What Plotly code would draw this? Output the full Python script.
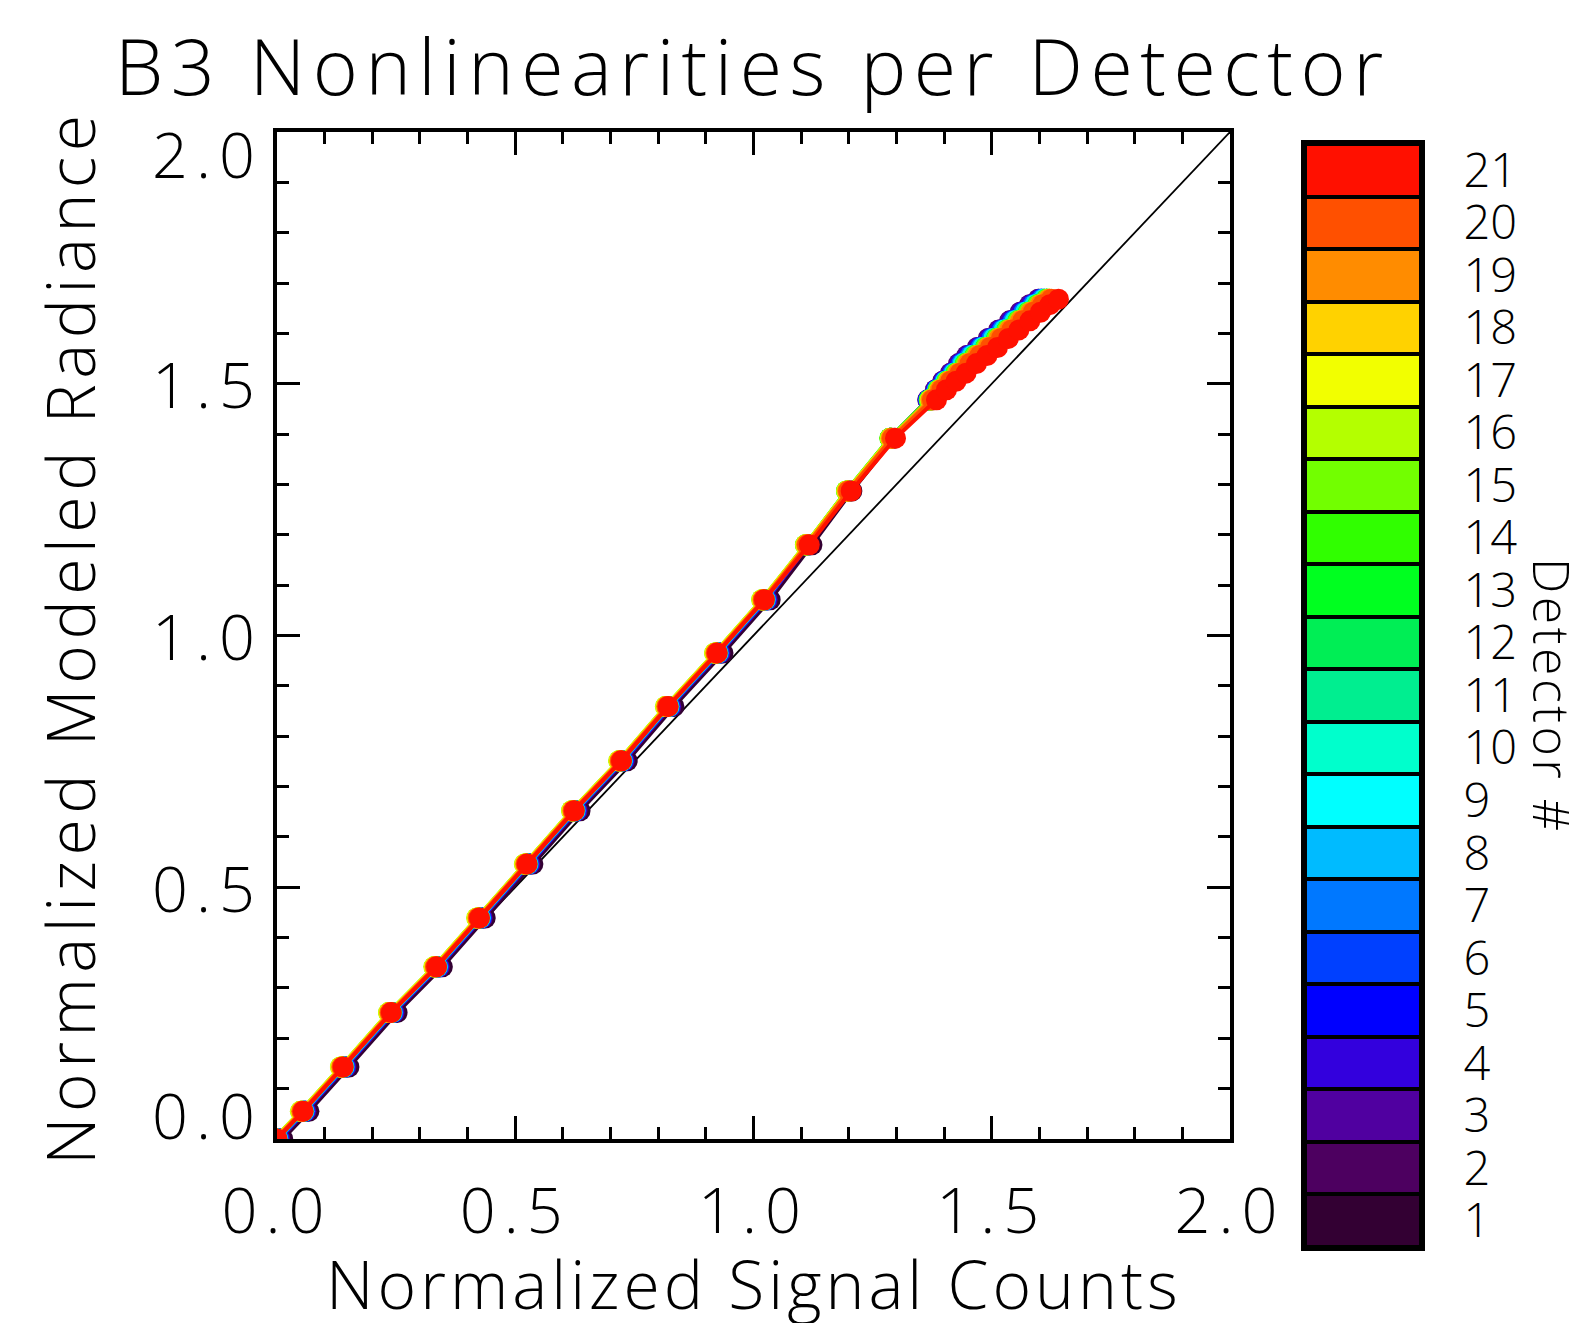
import plotly.graph_objects as go

W, H = 1582, 1323
PAGE_MARGIN = 8  # default body margin of the written page

# ---- data ----
signal_det21 = [0.0, 0.055, 0.139, 0.240, 0.335, 0.425, 0.525, 0.624, 0.723, 0.821, 0.924, 1.023,
                1.117, 1.205, 1.298, 1.384, 1.405, 1.425, 1.446, 1.468, 1.490, 1.512, 1.535, 1.557,
                1.580, 1.602, 1.622, 1.640]
radiance = [0.0, 0.055, 0.143, 0.251, 0.342, 0.439, 0.546, 0.652, 0.751, 0.859, 0.965, 1.071,
            1.180, 1.287, 1.392, 1.468, 1.488, 1.505, 1.521, 1.540, 1.556, 1.572, 1.590, 1.607,
            1.625, 1.642, 1.657, 1.668]
# share of the high-signal detector offset that applies at each point
blend = [0, 0, 0, 0, 0, 0, 0, 0, 0, 0, 0, 0,
         0.15, 0.25, 0.35, 0.5, 0.6, 0.7, 0.8, 0.9, 1, 1, 1, 1, 1, 1, 1, 1]
# detector signal offsets relative to detector 21, low and high signal
offset_low = [0.012, 0.006, 0.005, 0.004, 0.003, 0.003, 0.002, 0.001, 0.001, 0.000,
              0.000, -0.001, -0.004, -0.005, -0.005, -0.006, -0.005, -0.004, -0.003, -0.002, 0.0]
offset_high = [-0.030, -0.0425, -0.041, -0.0375, -0.036, -0.035, -0.034, -0.031, -0.030, -0.029,
               -0.025, -0.024, -0.025, -0.025, -0.024, -0.020, -0.019, -0.019, -0.020, -0.015, 0.0]
det_colors = ["#330033", "#4d0060", "#5000a0", "#3300dd", "#0000ff", "#0040ff", "#0078ff",
              "#00bbff", "#00ffff", "#00ffcc", "#00ee90", "#00ee55", "#00ff20", "#30ff00",
              "#72ff00", "#b4ff00", "#f2ff00", "#ffd200", "#ff8c00", "#ff5000", "#ff1000"]
det_labels = [str(i) for i in range(1, 22)]
axis_ticks = [0.0, 0.5, 1.0, 1.5, 2.0]
axis_tick_text = ["0.0", "0.5", "1.0", "1.5", "2.0"]
ytick_shift = [25, 0, 0, 0, -21]

FONT = "Open Sans"
WEIGHT = 300


def fx(p):
    return (p - PAGE_MARGIN) / W


def fy(p):
    return 1 - (p - PAGE_MARGIN) / H


def spaced(text, px):
    return f'<span style="letter-spacing:{px}px">{text}</span>'


plot_l, plot_r, plot_t, plot_b = 277, 1230, 132, 1139
cb_l, cb_r, cb_t, cb_b = 1305, 1421, 144, 1247

fig = go.Figure()

fig.add_trace(go.Scatter(x=[0, 2], y=[0, 2], mode="lines",
                         line=dict(color="black", width=1.8),
                         showlegend=False, hoverinfo="skip"))

for d in range(21):
    x = [s + (1 - b) * offset_low[d] + b * offset_high[d]
         for s, b in zip(signal_det21, blend)]
    fig.add_trace(go.Scatter(
        x=x, y=radiance, mode="lines+markers",
        line=dict(color=det_colors[d], width=4),
        marker=dict(color=det_colors[d], size=21, line=dict(width=0)),
        name=f"Detector {d + 1}", showlegend=False))

fig.add_trace(go.Bar(
    x=[0] * 21, y=[1] * 21, base=list(range(21)), width=1,
    marker=dict(color=det_colors, line=dict(color="black", width=4)),
    xaxis="x2", yaxis="y2", showlegend=False, hoverinfo="skip"))

axis_common = dict(
    range=[0, 2], showline=True, linewidth=4, linecolor="black", mirror="ticks",
    ticks="inside", ticklen=23, tickwidth=3, tickcolor="black",
    tickvals=axis_ticks, showgrid=False, zeroline=False, automargin=False,
    minor=dict(dtick=0.1, tick0=0, ticks="inside", ticklen=12, tickwidth=3,
               tickcolor="black", showgrid=False),
)

fig.update_layout(
    width=W, height=H,
    margin=dict(l=0, r=0, t=0, b=0, autoexpand=False),
    paper_bgcolor="white", plot_bgcolor="white",
    font=dict(family=FONT, color="black", weight=WEIGHT),
    barmode="overlay", bargap=0,
    xaxis=dict(domain=[fx(plot_l), fx(plot_r)], anchor="y",
               ticktext=[spaced(t, 8) for t in axis_tick_text],
               tickfont=dict(size=63, family=FONT, weight=WEIGHT),
               ticklabelstandoff=14, **axis_common),
    yaxis=dict(domain=[fy(plot_b), fy(plot_t)], anchor="x",
               showticklabels=False, **axis_common),
    xaxis2=dict(domain=[fx(cb_l), fx(cb_r)], anchor="y2", range=[-0.5, 0.5],
                showticklabels=False, showline=True, mirror=True, linewidth=4,
                linecolor="black", showgrid=False, zeroline=False, ticks="",
                automargin=False),
    yaxis2=dict(domain=[fy(cb_b), fy(cb_t)], anchor="x2", range=[0, 21], side="right",
                tickvals=[i + 0.5 for i in range(21)], ticktext=det_labels,
                tickfont=dict(size=47, family=FONT, weight=WEIGHT),
                ticks="", ticklabelstandoff=29,
                showline=True, mirror=True, linewidth=4, linecolor="black",
                showgrid=False, zeroline=False, automargin=False),
)

ann = []
ann.append(dict(text=spaced("B3 Nonlinearities per Detector", 7.5), x=fx(753), y=fy(66),
                xref="paper", yref="paper", xanchor="center", yanchor="middle",
                showarrow=False, font=dict(size=77, family=FONT, weight=WEIGHT)))
ann.append(dict(text=spaced("Normalized Signal Counts", 4), x=fx(754), y=fy(1283),
                xref="paper", yref="paper", xanchor="center", yanchor="middle",
                showarrow=False, font=dict(size=66, family=FONT, weight=WEIGHT)))
ann.append(dict(text=spaced("Normalized Modeled Radiance", 5.5), x=fx(69), y=fy(638),
                xref="paper", yref="paper", xanchor="center", yanchor="middle",
                textangle=-90, showarrow=False,
                font=dict(size=66, family=FONT, weight=WEIGHT)))
ann.append(dict(text=spaced("Detector #", 3.5), x=fx(1552), y=fy(696),
                xref="paper", yref="paper", xanchor="center", yanchor="middle",
                textangle=90, showarrow=False,
                font=dict(size=50, family=FONT, weight=WEIGHT)))
for v, t, s in zip(axis_ticks, axis_tick_text, ytick_shift):
    ann.append(dict(text=spaced(t, 8), x=fx(265), y=v, xref="paper", yref="y",
                    xanchor="right", yanchor="middle", yshift=s, showarrow=False,
                    font=dict(size=63, family=FONT, weight=WEIGHT)))
fig.update_layout(annotations=ann)

fig.write_html("out.html")
